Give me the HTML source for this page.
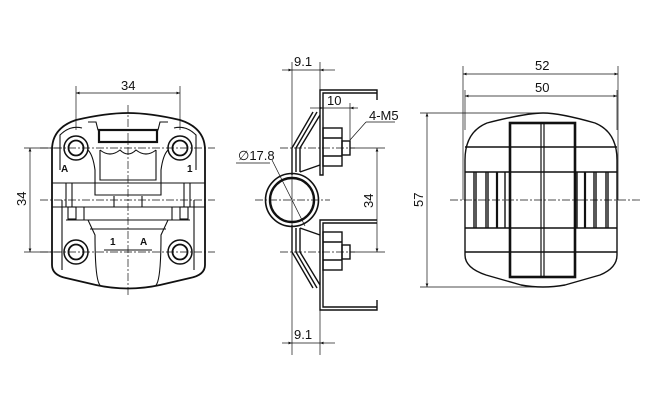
<!DOCTYPE html>
<html><head><style>
html,body{margin:0;padding:0;background:#fff;}
svg{display:block;}
text{font-family:"Liberation Sans",sans-serif;font-size:13px;fill:#111;}
</style></head><body>
<svg width="650" height="409" viewBox="0 0 650 409" xmlns="http://www.w3.org/2000/svg">
<defs>
<marker id="a" viewBox="0 0 10 10" refX="10" refY="5" markerWidth="7" markerHeight="5" orient="auto-start-reverse"><path d="M0,1 L10,5 L0,9z" fill="#111"/></marker>
</defs>
<g stroke="#111" fill="none" stroke-width="0.7">
<line x1="76" y1="86" x2="76" y2="130"/><line x1="180" y1="86" x2="180" y2="130"/>
<line x1="76" y1="93" x2="180" y2="93" marker-start="url(#a)" marker-end="url(#a)"/>
<line x1="24" y1="148" x2="60" y2="148"/><line x1="24" y1="252" x2="60" y2="252"/>
<line x1="30" y1="148" x2="30" y2="252" marker-start="url(#a)" marker-end="url(#a)"/>
<g stroke-dasharray="8,2,2,2"><line x1="40" y1="148" x2="215" y2="148"/><line x1="40" y1="252" x2="215" y2="252"/><line x1="128" y1="105" x2="128" y2="295"/><line x1="40" y1="200" x2="215" y2="200"/></g>
</g>
<g stroke="#111" fill="none" stroke-width="1.8">
<path d="M128,113 Q150,113 180,120 Q205,128 205,150 L205,265 Q205,275 190,278 L160,285 Q128,292 96,285 L66,278 Q52,275 52,265 L52,150 Q52,128 76,120 Q106,113 128,113Z"/>
<circle cx="76" cy="148" r="7.5"/><circle cx="180" cy="148" r="7.5"/><circle cx="76" cy="252" r="7.5"/><circle cx="180" cy="252" r="7.5"/>
</g>
<g stroke="#111" fill="none" stroke-width="1.1">
<path d="M60,170 L60,135 Q70,125 82,128 M196,170 L196,135 Q186,125 174,128"/>
<path d="M88,122 L96,122 L98,130 L158,130 L160,122 L168,122"/>
<rect x="99" y="130" width="58" height="12" stroke-width="2.2"/>
<path d="M100,150 Q110,158 120,150 Q128,158 136,150 Q146,158 156,150"/>
<path d="M100,150 L100,180 L156,180 L156,150"/>
<path d="M88,150 Q93,155 95,170 L95,195 L161,195 L161,170 Q163,155 168,150"/>
<path d="M52,183 L205,183 M52,207 L205,207 M84,207 L84,220 L172,220 L172,207"/>
<path d="M66,220 L88,220 L95,235 Q95,280 100,285 M190,220 L168,220 L161,235 Q161,280 156,285"/>
<path d="M90,229 L166,229 M104,250 L152,250"/>
<rect x="68" y="207" width="8" height="12"/><rect x="180" y="207" width="8" height="12"/>
<path d="M62,200 L62,270 M194,200 L194,270 M66,183 L66,207 M72,183 L72,207 M184,183 L184,207 M190,183 L190,207"/>
<path d="M114,196 L114,207 M142,196 L142,207"/>
</g>
<g stroke="#111" fill="none" stroke-width="1.5"><circle cx="76" cy="148" r="12"/><circle cx="180" cy="148" r="12"/><circle cx="76" cy="252" r="12"/><circle cx="180" cy="252" r="12"/></g>
<text x="121" y="90">34</text>
<text transform="translate(26,206) rotate(-90)">34</text>
<text x="61" y="172" style="font-size:10px;font-weight:bold">A</text><text x="187" y="172" style="font-size:10px;font-weight:bold">1</text>
<text x="110" y="245" style="font-size:10px;font-weight:bold">1</text><text x="140" y="245" style="font-size:10px;font-weight:bold">A</text>

<!-- MIDDLE VIEW -->
<g stroke="#111" fill="none" stroke-width="0.7">
<line x1="292" y1="62" x2="292" y2="355"/><line x1="320" y1="62" x2="320" y2="90"/><line x1="320" y1="310" x2="320" y2="355"/>
<line x1="282" y1="70" x2="292" y2="70" marker-end="url(#a)"/><line x1="335" y1="70" x2="320" y2="70" marker-end="url(#a)"/><line x1="292" y1="70" x2="320" y2="70"/>
<line x1="282" y1="343" x2="292" y2="343" marker-end="url(#a)"/><line x1="335" y1="343" x2="320" y2="343" marker-end="url(#a)"/><line x1="292" y1="343" x2="320" y2="343"/>
<line x1="310" y1="108" x2="323" y2="108" marker-end="url(#a)"/><line x1="323" y1="108" x2="350" y2="108"/><line x1="358" y1="108" x2="350" y2="108" marker-end="url(#a)"/>
<line x1="350" y1="103" x2="350" y2="150"/>
<line x1="350" y1="140" x2="366" y2="122"/><line x1="366" y1="122" x2="395" y2="122"/>
<line x1="350" y1="148" x2="385" y2="148"/><line x1="350" y1="252" x2="385" y2="252"/>
<line x1="377" y1="148" x2="377" y2="252" marker-start="url(#a)" marker-end="url(#a)"/>
<line x1="236" y1="163" x2="270" y2="163"/><line x1="272" y1="160" x2="305" y2="226"/>
<g stroke-dasharray="8,2,2,2"><line x1="280" y1="148" x2="355" y2="148"/><line x1="280" y1="252" x2="355" y2="252"/><line x1="255" y1="200" x2="330" y2="200"/></g>
</g>
<g stroke="#111" fill="none" stroke-width="1.4">
<path d="M377,100 L377,90 L320,90 L320,175 L323,175 L323,93 L377,93"/>
<path d="M377,220 L320,220 L320,310 L377,310 L377,300 M377,223 L323,223 L323,307 L377,307"/>
<rect x="323" y="128" width="19" height="38"/><rect x="342" y="141" width="8" height="14"/>
<rect x="323" y="232" width="19" height="38"/><rect x="342" y="245" width="8" height="14"/>
<line x1="323" y1="138" x2="342" y2="138"/><line x1="323" y1="156" x2="342" y2="156"/>
<line x1="323" y1="242" x2="342" y2="242"/><line x1="323" y1="260" x2="342" y2="260"/>
<path d="M313,112 L292,148 L292,175 M317,112 L296,148 L296,172 M320,115 L300,148 L300,172"/>
<path d="M313,288 L292,252 L292,225 M317,288 L296,252 L296,228 M320,285 L300,252 L300,228"/>
<path d="M300,172 L320,165 M300,228 L320,235"/>
</g>
<circle cx="292" cy="200" r="26.5" stroke="#111" stroke-width="1.6" fill="none"/>
<circle cx="292" cy="200" r="22" stroke="#111" stroke-width="2.4" fill="none"/>
<text x="294" y="66">9.1</text><text x="294" y="339">9.1</text>
<text x="327" y="105">10</text><text x="369" y="120">4-M5</text>
<text x="238" y="160">∅17.8</text>
<text transform="translate(373,208) rotate(-90)">34</text>

<!-- RIGHT VIEW -->
<g stroke="#111" fill="none" stroke-width="0.7">
<line x1="463" y1="66" x2="463" y2="200"/><line x1="618" y1="66" x2="618" y2="200"/>
<line x1="465" y1="90" x2="465" y2="130"/><line x1="617" y1="90" x2="617" y2="130"/>
<line x1="463" y1="74" x2="618" y2="74" marker-start="url(#a)" marker-end="url(#a)"/>
<line x1="465" y1="96" x2="617" y2="96" marker-start="url(#a)" marker-end="url(#a)"/>
<line x1="420" y1="113" x2="540" y2="113"/><line x1="420" y1="287" x2="540" y2="287"/>
<line x1="427" y1="113" x2="427" y2="287" marker-start="url(#a)" marker-end="url(#a)"/>
<line x1="450" y1="200" x2="640" y2="200" stroke-dasharray="8,2,2,2"/>
</g>
<g stroke="#111" fill="none" stroke-width="1.4">
<path d="M543,113 Q560,113 595,123 Q617,132 617,160 L617,255 Q617,268 600,275 L565,285 Q543,289 521,285 L486,275 Q465,268 465,255 L465,160 Q465,132 487,123 Q526,113 543,113Z"/>
<path d="M465,172 L617,172 M465,228 L617,228 M465,147 L617,147 M465,252 L617,252"/>
<path d="M474,172 L474,228 M476,172 L476,228 M486,172 L486,228 M488,172 L488,228 M505,172 L505,228 M608,172 L608,228 M606,172 L606,228 M596,172 L596,228 M594,172 L594,228 M577,172 L577,228"/>
</g>
<g stroke="#111" fill="none" stroke-width="2.6">
<rect x="510" y="123" width="65" height="154"/>
<line x1="541" y1="123" x2="541" y2="277" stroke-width="1.2"/><line x1="544" y1="123" x2="544" y2="277" stroke-width="1.2"/>
<line x1="497" y1="172" x2="497" y2="228" stroke-width="2.2"/><line x1="585" y1="172" x2="585" y2="228" stroke-width="2.2"/>
</g>
<text x="535" y="70">52</text><text x="535" y="92">50</text>
<text transform="translate(423,207) rotate(-90)">57</text>
</svg>
</body></html>
